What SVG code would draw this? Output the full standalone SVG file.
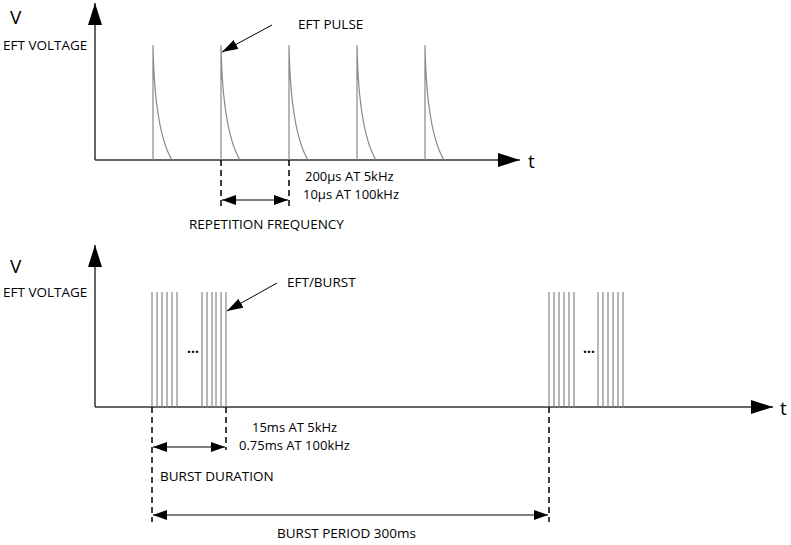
<svg xmlns="http://www.w3.org/2000/svg" width="791" height="545" viewBox="0 0 791 545">
<defs>
<marker id="ah" markerWidth="14" markerHeight="10" refX="14" refY="5" orient="auto" markerUnits="userSpaceOnUse"><path d="M0,0 L14,5 L0,10z" fill="#000"/></marker>
<marker id="big" markerWidth="22" markerHeight="14" refX="22" refY="7" orient="auto" markerUnits="userSpaceOnUse"><path d="M0,0 L22,7 L0,14z" fill="#000"/></marker>
<marker id="ptr" markerWidth="16" markerHeight="10" refX="16" refY="5" orient="auto" markerUnits="userSpaceOnUse"><path d="M0,0 L16,5 L0,10z" fill="#000"/></marker>
</defs>
<style>
text{font-family:"Open Sans","Liberation Sans",sans-serif;font-size:13.5px;fill:#000}
.sm{font-size:13px}
.big{font-size:19px}
.dots{font-size:14px;font-weight:bold}
.ax{stroke:#333;stroke-width:1.5;fill:none}
.p{stroke:#888;stroke-width:1.2;fill:none}
.d{stroke:#000;stroke-width:1.5;stroke-dasharray:6,4}
.a{stroke:#000;stroke-width:1}
</style>
<rect width="791" height="545" fill="#fff"/>
<g id="top-axes">
<line class="ax" x1="95" y1="160" x2="95" y2="3" marker-end="url(#big)"/>
<line class="ax" x1="95" y1="160" x2="520" y2="160" marker-end="url(#big)"/>
<text class="big" x="10" y="24">V</text>
<text x="3" y="50">EFT VOLTAGE</text>
<text class="big" x="528" y="168">t</text>
</g>
<g id="pulses">
<path class="p" d="M153,160 V45 C154,100 160,140 172,160"/>
<path class="p" d="M221,160 V45 C222,100 228,140 240,160"/>
<path class="p" d="M289,160 V45 C290,100 296,140 308,160"/>
<path class="p" d="M357,160 V45 C358,100 364,140 376,160"/>
<path class="p" d="M425,160 V45 C426,100 432,140 444,160"/>
</g>
<g id="bottom-axes">
<line class="ax" x1="95" y1="407" x2="95" y2="245" marker-end="url(#big)"/>
<line class="ax" x1="95" y1="407" x2="773" y2="407" marker-end="url(#big)"/>
<text class="big" x="10" y="273">V</text>
<text x="3" y="297">EFT VOLTAGE</text>
<text class="big" x="780" y="415">t</text>
</g>
<g id="bursts" class="p">
<path d="M152,407V292M157,407V292M162,407V292M167,407V292M172,407V292M177,407V292M202,407V292M207,407V292M212,407V292M216,407V292M221,407V292M226,407V292"/>
<path d="M549,407V292M554,407V292M559,407V292M564,407V292M569,407V292M574,407V292M598,407V292M603,407V292M608,407V292M613,407V292M618,407V292M623,407V292"/>
</g>
<g id="connectors">
<line class="d" x1="221" y1="160" x2="221" y2="206"/>
<line class="d" x1="289" y1="160" x2="289" y2="206"/>
<line class="a" x1="255" y1="200" x2="222" y2="200" marker-end="url(#ah)"/>
<line class="a" x1="255" y1="200" x2="288" y2="200" marker-end="url(#ah)"/>
<line class="a" x1="272" y1="25" x2="222" y2="52" marker-end="url(#ptr)"/>
<line class="a" x1="277" y1="283" x2="227" y2="311" marker-end="url(#ptr)"/>
<line class="d" x1="152" y1="407" x2="152" y2="522"/>
<line class="d" x1="226" y1="407" x2="226" y2="450"/>
<line class="d" x1="549" y1="407" x2="549" y2="522"/>
<line class="a" x1="189" y1="447" x2="153" y2="447" marker-end="url(#ah)"/>
<line class="a" x1="189" y1="447" x2="225" y2="447" marker-end="url(#ah)"/>
<line class="a" x1="350" y1="515" x2="153" y2="515" marker-end="url(#ah)"/>
<line class="a" x1="350" y1="515" x2="548" y2="515" marker-end="url(#ah)"/>
</g>
<g id="labels">
<text x="298" y="29">EFT PULSE</text>
<text class="sm" x="305" y="181">200µs AT 5kHz</text>
<text class="sm" x="303" y="199">10µs AT 100kHz</text>
<text x="189" y="229">REPETITION FREQUENCY</text>
<text x="287" y="287">EFT/BURST</text>
<text class="dots" x="187" y="353">...</text>
<text class="dots" x="583" y="353">...</text>
<text class="sm" x="252" y="432">15ms AT 5kHz</text>
<text class="sm" x="239" y="450">0.75ms AT 100kHz</text>
<text x="160" y="481">BURST DURATION</text>
<text x="277" y="538">BURST PERIOD 300ms</text>
</g>
</svg>
